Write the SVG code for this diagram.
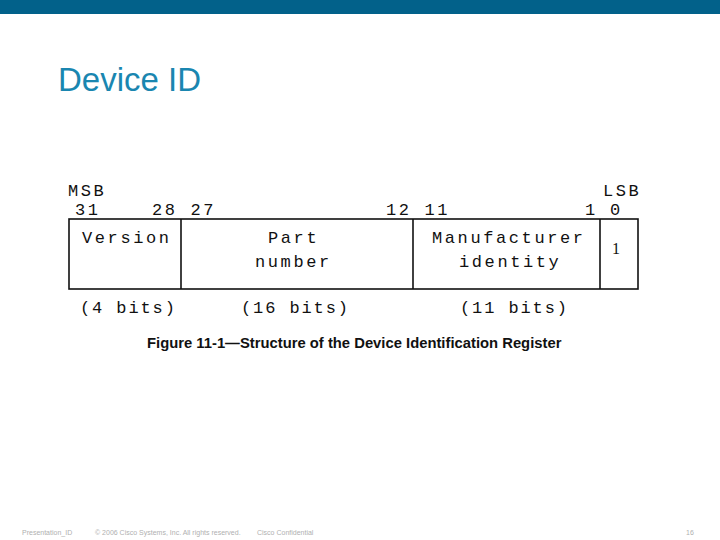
<svg xmlns="http://www.w3.org/2000/svg" width="720" height="540" viewBox="0 0 720 540">
<style>
.m{font-family:"Liberation Mono","DejaVu Sans Mono",monospace;font-size:17px;fill:#111;letter-spacing:2.6px}
.w{letter-spacing:1.9px}
.f{font-family:"Liberation Sans",Arial,sans-serif;font-size:7px;fill:#b0b0b0}
.b{fill:none;stroke:#111;stroke-width:1.6}
</style>
<rect width="720" height="540" fill="#fff"/>
<rect x="0" y="0" width="720" height="14" fill="#02618a"/>
<text x="58" y="91" font-family="Liberation Sans,Arial,sans-serif" font-size="33" fill="#1a86b0" textLength="143" lengthAdjust="spacingAndGlyphs">Device ID</text>
<g id="bits">
<text class="m" x="68" y="196">MSB</text>
<text class="m" x="603" y="196">LSB</text>
<text class="m" x="75" y="215">31</text>
<text class="m" x="152" y="215">28 27</text>
<text class="m" x="386" y="215">12 11</text>
<text class="m" x="585" y="215">1</text>
<text class="m" x="610" y="215">0</text>
</g>
<g id="register">
<rect class="b" x="69" y="219" width="569" height="70"/>
<line class="b" x1="181" y1="219" x2="181" y2="289"/>
<line class="b" x1="413" y1="219" x2="413" y2="289"/>
<line class="b" x1="600" y1="219" x2="600" y2="289"/>
</g>
<g id="version"><text class="m" x="82" y="243">Version</text></g>
<g id="part"><text class="m" x="268" y="243">Part</text><text class="m" x="255" y="267">number</text></g>
<g id="manufacturer"><text class="m" x="432" y="243">Manufacturer</text><text class="m" x="459" y="267">identity</text></g>
<g id="lsb"><text x="612" y="254" font-family="Liberation Serif,serif" font-size="16" fill="#111">1</text></g>
<g id="widths">
<text class="m w" x="80" y="313">(4 bits)</text>
<text class="m w" x="241" y="313">(16 bits)</text>
<text class="m w" x="460" y="313">(11 bits)</text>
</g>
<text x="147" y="348" font-family="Liberation Sans,Arial,sans-serif" font-size="14.8" font-weight="bold" fill="#111">Figure 11-1—Structure of the Device Identification Register</text>
<text class="f" x="22" y="535">Presentation_ID</text>
<text class="f" x="95" y="535">© 2006 Cisco Systems, Inc. All rights reserved.</text>
<text class="f" x="257" y="535">Cisco Confidential</text>
<text class="f" x="686" y="535" font-size="9">16</text>
</svg>
